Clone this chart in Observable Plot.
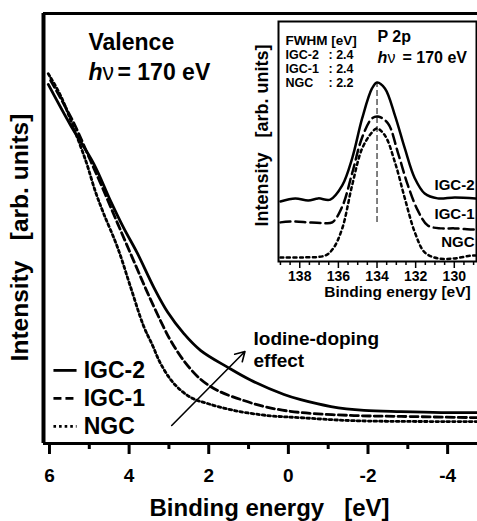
<!DOCTYPE html>
<html><head><meta charset="utf-8">
<script src="https://cdn.jsdelivr.net/npm/d3@7"></script>
<script src="https://cdn.jsdelivr.net/npm/@observablehq/plot@0.6"></script>
<style>
body{margin:0;background:#fff;}
#wrap{position:relative;width:477px;height:521px;overflow:hidden;background:#fff;}
#wrap svg{position:absolute;}
</style></head><body><div id="wrap"></div>
<script>
// ---------- Main panel: valence band spectra (binding energy eV, intensity arb. units)
const valE_IGC2 = [6.03,5.47,4.89,4.47,4.14,3.79,3.38,3.03,2.63,2.20,1.52,0.94,0.11,-0.31,-1.07,-1.90,-2.83,-3.84,-4.75];
const valI_IGC2 = [83.5,74.0,65.1,56.5,50.2,44.2,36.3,30.5,25.6,21.6,17.7,14.7,11.4,10.2,8.6,7.7,7.4,7.2,7.2];
const valE_IGC1 = [5.97,5.42,4.97,4.67,4.29,3.89,3.53,3.13,2.96,2.63,2.20,1.77,1.12,0.52,-0.31,-1.65,-2.83,-4.75];
const valI_IGC1 = [84.4,75.1,65.8,59.5,51.2,42.6,34.9,27.0,24.0,19.3,14.9,12.3,10.0,8.4,7.2,6.5,6.3,6.0];
const valE_NGC  = [6.03,5.72,5.42,5.09,4.84,4.64,4.29,3.96,3.64,3.41,3.21,2.88,2.45,2.03,1.37,0.52,-0.31,-1.65,-4.75];
const valI_NGC  = [86.0,80.9,74.0,65.8,58.4,53.5,45.6,36.3,27.4,22.8,18.6,14.0,10.7,9.3,7.7,6.5,6.0,5.3,5.1];
const mainTicks = [6,4,2,0,-2,-4];
const mainMinor = [5,3,1,-1,-3];
const seriesNames = ["IGC-2","IGC-1","NGC"];

// ---------- Inset: P 2p core level
const p2pE_IGC2 = [139.0,138.23,137.56,137.04,136.42,135.80,135.29,134.77,134.26,134.0,133.59,133.07,132.56,132.04,131.53,130.86,129.98,128.9];
const p2pI_IGC2 = [25.0,26.3,25.4,26.3,25.8,31.7,42.9,59.6,72.1,74.6,72.1,60.8,47.1,34.6,28.3,26.3,26.7,26.3];
const p2pE_IGC1 = [139.0,138.23,137.56,136.84,136.32,135.80,135.29,134.77,134.26,133.95,133.43,132.92,132.40,131.89,131.37,130.65,129.98,129.10,128.9];
const p2pI_IGC1 = [16.3,16.7,16.3,16.0,16.3,22.9,36.7,51.7,59.6,60.4,57.5,45.4,31.7,21.3,15.0,13.8,13.8,13.3,13.3];
const p2pE_NGC  = [139.0,137.87,136.68,136.27,135.80,135.29,134.77,134.26,134.0,133.59,133.07,132.56,132.04,131.53,130.86,129.98,129.10,128.9];
const p2pI_NGC  = [1.7,1.7,2.5,5.4,13.8,31.7,47.1,53.8,55.4,52.5,41.3,26.3,12.1,3.8,1.3,1.3,2.5,2.5];
const insetTicks = [138,136,134,132,130];
const insetMinor = [139,138.5,137.5,137,136.5,135.5,135,134.5,133.5,133,132.5,131.5,131,130.5,129.5,129];
const fwhmValues = [2.4,2.4,2.2];
const peakE = 134.0;
const peakLineI = [16.25, 74.6];

// annotation (arrow "Iodine-doping effect") in data units of the main panel
const arrowE = [2.93, 1.09];
const arrowI = [4.2, 21.4];
// legend placement in data units
const legendLineE = [5.90, 5.32];
const legendTextE = 5.14;
const legendI = [17.0, 10.5, 4.0];

const FONT = "'Liberation Sans', Arial, Helvetica, sans-serif";
const dashMain = {"IGC-2": null, "IGC-1": "8,4", "NGC": "2.6,3"};
const dashInset = {"IGC-2": null, "IGC-1": "10,5", "NGC": "3,3.5"};
const mainSeries = [[valE_IGC2,valI_IGC2],[valE_IGC1,valI_IGC1],[valE_NGC,valI_NGC]];
const insetSeries = [[p2pE_IGC2,p2pI_IGC2],[p2pE_IGC1,p2pI_IGC1],[p2pE_NGC,p2pI_NGC]];
const fmt = d => String(d);
const sp = "\u00a0";

const txt = (s, o) => Plot.text([s], {text: d => d, fontWeight: "bold", textAnchor: "start", lineAnchor: "middle", frameAnchor: "top-left", ...o});

const main = Plot.plot({
  width: 477, height: 521,
  marginLeft: 43, marginRight: 0, marginTop: 13, marginBottom: 78,
  style: {fontFamily: FONT, color: "#000", background: "transparent", overflow: "visible"},
  x: {domain: [6.15, -4.75]},
  y: {domain: [0, 100], axis: null},
  marks: [
    ...mainSeries.map(([E, I], k) => Plot.line(E, {x: E, y: I, curve: "catmull-rom", stroke: "#000", strokeWidth: 2.8, strokeDasharray: dashMain[seriesNames[k]]})),
    Plot.ruleY([0], {strokeWidth: 3}),
    Plot.ruleY([100], {strokeWidth: 3}),
    Plot.ruleX([6.15], {strokeWidth: 4}),
    Plot.axisX({ticks: mainTicks, tickSize: 11, tickPadding: 14, tickFormat: fmt, strokeWidth: 3, fontSize: 19, fontWeight: "bold", label: null}),
    Plot.axisX({ticks: mainMinor, tickSize: 6, strokeWidth: 3, text: null, label: null}),
    // legend
    ...seriesNames.map((n, k) => Plot.link([n], {x1: legendLineE[0], x2: legendLineE[1], y1: legendI[k], y2: legendI[k], stroke: "#000", strokeWidth: 2.8, strokeDasharray: dashMain[n]})),
    Plot.text(seriesNames, {x: legendTextE, y: (d, i) => legendI[i], text: d => d, textAnchor: "start", fontSize: 23, fontWeight: "bold"}),
    // arrow
    Plot.arrow([0], {x1: arrowE[0], y1: arrowI[0], x2: arrowE[1], y2: arrowI[1], strokeWidth: 1.6, headLength: 10, stroke: "#000"}),
    txt("Iodine-doping", {dx: 210, dy: 325, fontSize: 19}),
    txt("effect", {dx: 210, dy: 347, fontSize: 19}),
    // title texts
    txt("Valence", {dx: 45, dy: 29, fontSize: 23}),
    txt("h", {dx: 45, dy: 59, fontSize: 23, fontStyle: "italic"}),
    txt("\u03bd", {dx: 59, dy: 59, fontSize: 23, fontWeight: "normal"}),
    txt("= 170 eV", {dx: 74, dy: 59, fontSize: 23}),
    // axis titles
    Plot.text(["Binding energy" + sp+sp+sp + "[eV]"], {text: d => d, frameAnchor: "bottom", textAnchor: "middle", dx: 9, dy: 65, lineAnchor: "middle", fontSize: 24, fontWeight: "bold"}),
    Plot.text(["Intensity" + sp+sp+sp + "[arb. units]"], {text: d => d, frameAnchor: "left", textAnchor: "middle", rotate: -90, dx: -23, dy: 9, lineAnchor: "middle", fontSize: 24.5, fontWeight: "bold"})
  ]
});

const rowDy = [33.5, 47.5, 61.5];
const inset = Plot.plot({
  width: 247, height: 310,
  marginLeft: 48, marginRight: 1, marginTop: 21, marginBottom: 49,
  style: {fontFamily: FONT, color: "#000", background: "transparent", overflow: "visible"},
  x: {domain: [139.1, 128.85]},
  y: {domain: [0, 100], axis: null},
  marks: [
    ...insetSeries.map(([E, I], k) => Plot.line(E, {x: E, y: I, curve: "catmull-rom", stroke: "#000", strokeWidth: 2.5, strokeDasharray: dashInset[seriesNames[k]]})),
    Plot.ruleX([peakE], {y1: peakLineI[0], y2: peakLineI[1], strokeWidth: 1, strokeDasharray: "6,3"}),
    Plot.frame({strokeWidth: 2}),
    Plot.axisX({ticks: insetTicks, tickSize: 7, tickPadding: 3, tickFormat: fmt, strokeWidth: 1.5, fontSize: 14, fontWeight: "bold", label: null}),
    Plot.axisX({ticks: insetMinor, tickSize: 4, strokeWidth: 1.5, text: null, label: null}),
    txt("FWHM [eV]", {dx: 7, dy: 19, fontSize: 13.5}),
    ...seriesNames.map((n, k) => txt(n, {dx: 7, dy: rowDy[k], fontSize: 12.5})),
    ...fwhmValues.map((v, k) => txt(": " + v.toFixed(1), {dx: 50, dy: rowDy[k], fontSize: 12.5})),
    txt("P 2p", {dx: 99, dy: 15, fontSize: 16}),
    txt("h", {dx: 99, dy: 36, fontSize: 16, fontStyle: "italic"}),
    txt("\u03bd", {dx: 109, dy: 36, fontSize: 16, fontWeight: "normal"}),
    txt("= 170 eV", {dx: 124, dy: 36, fontSize: 16}),
    ...seriesNames.map((n, k) => txt(n, {frameAnchor: "top-right", textAnchor: "end", dx: -2, dy: [164, 193, 221][k], fontSize: 15})),
    Plot.text(["Binding energy [eV]"], {text: d => d, frameAnchor: "bottom", textAnchor: "middle", dx: 20, dy: 31, lineAnchor: "middle", fontSize: 15.5, fontWeight: "bold"}),
    Plot.text(["Intensity" + sp+sp+sp + "[arb. units]"], {text: d => d, frameAnchor: "left", textAnchor: "middle", rotate: -90, dx: -16, dy: -6, lineAnchor: "middle", fontSize: 18, fontWeight: "bold"})
  ]
});

const wrap = document.getElementById("wrap");
main.style.left = "0px"; main.style.top = "0px";
inset.style.left = "230px"; inset.style.top = "0px";
wrap.appendChild(main);
wrap.appendChild(inset);
</script>
</body></html>
